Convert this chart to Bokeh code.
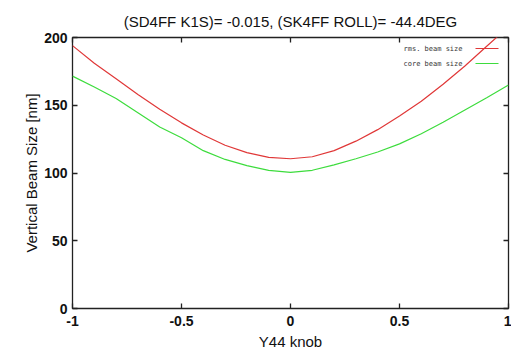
from bokeh.plotting import figure
from bokeh.models import Range1d, FixedTicker, LinearAxis, Label, ColumnDataSource
from bokeh.embed import file_html
from bokeh.resources import INLINE

# ---- data ----
knob = [-1.0, -0.9, -0.8, -0.7, -0.6, -0.5, -0.4, -0.3, -0.2, -0.1, 0.0,
        0.1, 0.2, 0.3, 0.4, 0.5, 0.6, 0.7, 0.8, 0.9, 1.0]
rms_size = [194, 181, 169.5, 158, 147, 137, 128, 120.5, 115, 111.5, 110.5,
            112, 116.5, 123.5, 132, 142, 153, 165.5, 179, 193.5, 208]
core_size = [171.5, 163.5, 155, 144.5, 134, 126, 116.5, 110, 105.5, 102, 100.5,
             102, 106, 110.5, 115.5, 121.5, 129, 137.5, 146.5, 155.5, 165]
x_ticks = [-1, -0.5, 0, 0.5, 1]
x_tick_labels = ["-1", "-0.5", "0", "0.5", "1"]
y_ticks = [0, 50, 100, 150, 200]
y_tick_labels = ["0", "50", "100", "150", "200"]
series_names = ["rms. beam size", "core beam size"]
title_text = "(SD4FF K1S)= -0.015, (SK4FF ROLL)= -44.4DEG"
x_label = "Y44 knob"
y_label = "Vertical Beam Size [nm]"

RED = "#e03838"
GREEN = "#3ddc3d"
FONT = "Liberation Sans"

X0, X1, Y0, Y1 = -1, 1, 0, 200
W, H = 511, 355
BL, BR, BT, BB = 72, 3, 37, 47

p = figure(width=W, height=H, output_backend="svg", toolbar_location=None,
           x_range=Range1d(X0, X1), y_range=Range1d(Y0, Y1),
           min_border_left=BL, min_border_right=BR, min_border_top=BT,
           min_border_bottom=BB, background_fill_color="white",
           border_fill_color="white", title=title_text)
p.title.align = "center"
p.title.vertical_align = "top"
p.title.text_font = FONT
p.title.text_font_size = "15px"
p.title.text_font_style = "normal"
p.title.text_color = "#111111"
p.title.standoff = 12
p.xgrid.visible = False
p.ygrid.visible = False
p.outline_line_color = "#222222"
p.outline_line_width = 1.3
p.outline_line_alpha = 1.0

src = ColumnDataSource(dict(x=knob, rms=rms_size, core=core_size))
p.line("x", "rms", source=src, line_color=RED, line_width=1.2)
p.line("x", "core", source=src, line_color=GREEN, line_width=1.2)

def style_axis(ax, ticks, labels, show_labels=True):
    ax.ticker = FixedTicker(ticks=ticks)
    if show_labels:
        ax.major_label_overrides = {t: l for t, l in zip(ticks, labels)}
    else:
        ax.major_label_overrides = {t: "" for t in ticks}
        ax.major_label_standoff = 0
    ax.minor_tick_line_color = None
    ax.major_tick_in = 5
    ax.major_tick_out = 0
    ax.major_tick_line_color = "#222222"
    ax.major_tick_line_width = 1.3
    ax.axis_line_color = None
    ax.major_label_text_font = FONT
    ax.major_label_text_font_size = "14px"
    ax.major_label_text_font_style = "bold"
    ax.major_label_text_color = "#111111"

xa = p.xaxis[0]
style_axis(xa, x_ticks, x_tick_labels)
xa.major_label_standoff = 7
xa.axis_label = x_label
xa.axis_label_text_font = FONT
xa.axis_label_text_font_size = "15px"
xa.axis_label_text_font_style = "normal"
xa.axis_label_text_color = "#111111"
xa.axis_label_standoff = 4

ya = p.yaxis[0]
style_axis(ya, y_ticks, y_tick_labels)
ya.major_label_standoff = 5
ya.axis_label = y_label
ya.axis_label_text_font = FONT
ya.axis_label_text_font_size = "15px"
ya.axis_label_text_font_style = "normal"
ya.axis_label_text_color = "#111111"
ya.axis_label_standoff = 1

top_ax = LinearAxis()
style_axis(top_ax, x_ticks, x_tick_labels, show_labels=False)
p.add_layout(top_ax, "above")
right_ax = LinearAxis()
style_axis(right_ax, y_ticks, y_tick_labels, show_labels=False)
p.add_layout(right_ax, "right")

# gnuplot-style key: text then a line sample, top right
frame_w = W - BL - BR
frame_h = H - BT - BB
px_x = (X1 - X0) / frame_w
px_y = (Y1 - Y0) / frame_h
key_colors = [RED, GREEN]
for i, (name, col) in enumerate(zip(series_names, key_colors)):
    dy = 11 + 15 * i
    p.add_layout(Label(x=X1, y=Y1, x_offset=-46, y_offset=-dy, text=name,
                       text_align="right", text_baseline="middle",
                       text_font="DejaVu Sans Mono", text_font_size="7px",
                       text_color="#333333"))
    yk = Y1 - dy * px_y
    p.segment(x0=[X1 - 33 * px_x], y0=[yk], x1=[X1 - 10 * px_x], y1=[yk],
              line_color=col, line_width=1.2)

open("out.html", "w").write(file_html(p, INLINE))
